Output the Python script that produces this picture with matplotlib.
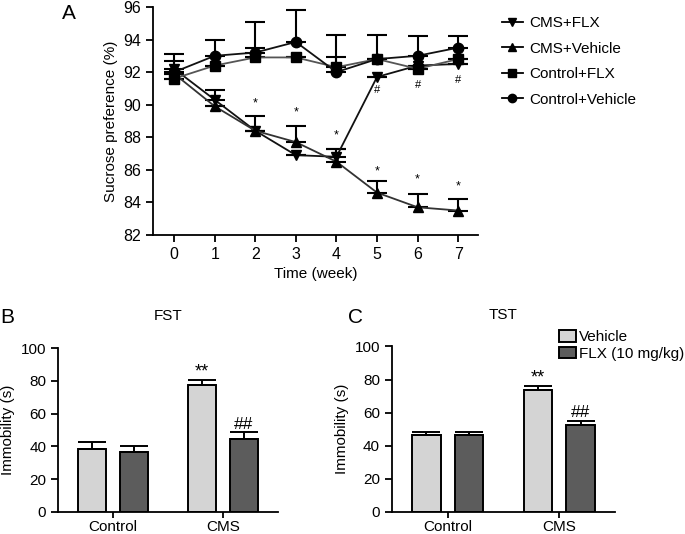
import matplotlib.pyplot as plt
from matplotlib.lines import Line2D
import numpy as np

plt.rcParams['font.family'] = ['Liberation Sans', 'DejaVu Sans']

# ---- panel A data: sucrose preference (%) by week
weeks = [0, 1, 2, 3, 4, 5, 6, 7]
cms_flx = [92.2, 90.3, 88.4, 86.9, 86.8, 91.7, 92.4, 92.5]
cms_flx_err = [0.5, 0.6, 0.9, 0.0, 0.5, 0.0, 0.0, 0.0]
cms_veh = [91.9, 89.9, 88.4, 87.7, 86.5, 84.6, 83.7, 83.5]
cms_veh_err = [0.0, 0.0, 0.0, 1.0, 0.8, 0.7, 0.8, 0.7]
ctl_flx = [91.6, 92.4, 92.9, 92.9, 92.3, 92.8, 92.2, 92.8]
ctl_flx_err = [0.0, 0.0, 0.6, 0.0, 0.6, 1.45, 0.0, 0.0]
ctl_veh = [92.0, 93.0, 93.2, 93.85, 92.0, 92.8, 93.0, 93.5]
ctl_veh_err = [1.1, 1.0, 1.9, 1.95, 2.3, 0.0, 1.2, 0.7]
star_weeks = [2, 3, 4, 5, 6, 7]
star_y = [90.1, 89.5, 88.1, 85.9, 85.4, 85.0]
hash_weeks = [5, 6, 7]
hash_y = [90.9, 91.2, 91.5]

# ---- panels B/C data: immobility (s)
groups = ['Control', 'CMS']
fst_veh = [38.5, 77.5]
fst_veh_err = [4.0, 3.2]
fst_flx = [36.5, 44.5]
fst_flx_err = [4.0, 4.0]
tst_veh = [46.3, 73.7]
tst_veh_err = [1.9, 2.7]
tst_flx = [46.3, 52.6]
tst_flx_err = [1.8, 2.3]

fig = plt.figure(figsize=(6.85, 5.34), dpi=100)

def style(ax, lw=1.3, size=11.5):
    for s in ['top', 'right']:
        ax.spines[s].set_visible(False)
    for s in ['left', 'bottom']:
        ax.spines[s].set_linewidth(lw)
    ax.tick_params(width=lw, length=5, labelsize=size)

# panel A
axA = fig.add_axes([0.2234, 0.56, 0.4745, 0.427])
series = [
    ('CMS+FLX', cms_flx, cms_flx_err, 'v', '#111111'),
    ('CMS+Vehicle', cms_veh, cms_veh_err, '^', '#333333'),
    ('Control+FLX', ctl_flx, ctl_flx_err, 's', '#555555'),
    ('Control+Vehicle', ctl_veh, ctl_veh_err, 'o', '#111111'),
]
handles = []
for name, vals, err, mk, col in series:
    axA.errorbar(weeks, vals, yerr=[np.zeros(len(err)), err], color=col,
                 marker=mk, markersize=7.5, markerfacecolor='black',
                 markeredgecolor='black', linewidth=1.3, capsize=7,
                 capthick=1.5, elinewidth=1.5, ecolor='black')
    handles.append(Line2D([], [], color='black', marker=mk, markersize=6,
                          linewidth=1.3, label=name))
for w, y in zip(star_weeks, star_y):
    axA.text(w, y, '*', ha='center', va='center', fontsize=9)
for w, y in zip(hash_weeks, hash_y):
    axA.text(w, y, '#', ha='center', va='center', fontsize=8)
axA.set_xlim(-0.52, 7.49)
axA.set_ylim(82, 96)
axA.set_xticks(weeks)
axA.set_yticks(range(82, 97, 2))
axA.set_xlabel('Time (week)', fontsize=11)
axA.set_ylabel('Sucrose preference (%)', fontsize=11)
style(axA)
axA.legend(handles=handles, loc='upper left', bbox_to_anchor=(1.03, 1.02),
           frameon=False, fontsize=11, handlelength=1.4, labelspacing=0.75,
           handletextpad=0.4)
fig.text(0.09, 0.975, 'A', fontsize=15, va='center')

# panels B and C
def bars(rect, veh, veh_err, flx, flx_err, title, letter, lx, legend=False):
    ax = fig.add_axes(rect)
    x = np.arange(len(groups))
    off = 0.19
    w = 0.255
    ax.bar(x - off, veh, w, color='#d4d4d4', edgecolor='black',
           linewidth=1.4, label='Vehicle')
    ax.bar(x + off, flx, w, color='#5c5c5c', edgecolor='black',
           linewidth=1.4, label='FLX (10 mg/kg)')
    ax.errorbar(x - off, veh, yerr=[[0, 0], veh_err], fmt='none',
                ecolor='black', capsize=10, elinewidth=1.4, capthick=1.4)
    ax.errorbar(x + off, flx, yerr=[[0, 0], flx_err], fmt='none',
                ecolor='black', capsize=10, elinewidth=1.4, capthick=1.4)
    ax.text(1 - off, veh[1] + veh_err[1] - 0.5, '**', ha='center',
            va='bottom', fontsize=13)
    ax.text(1 + off, flx[1] + flx_err[1] + 0.5, '##', ha='center',
            va='bottom', fontsize=12.5)
    ax.set_xlim(-0.5, 1.5)
    ax.set_ylim(0, 100)
    ax.set_xticks(x)
    ax.set_xticklabels(groups)
    ax.set_yticks(range(0, 101, 20))
    ax.set_ylabel('Immobility (s)', fontsize=11)
    style(ax, size=11)
    ax.tick_params(axis='x', length=4, pad=1.5)
    ax.set_title(title, fontsize=11, pad=20)
    fig.text(lx, 0.405, letter, fontsize=15, va='center')
    if legend:
        ax.legend(loc='upper left', bbox_to_anchor=(0.72, 1.135),
                  frameon=False, fontsize=11, handlelength=1.1,
                  handleheight=0.8, handletextpad=0.2, labelspacing=0.15,
                  borderaxespad=0)
    return ax

bars([0.0847, 0.0412, 0.321, 0.307], fst_veh, fst_veh_err, fst_flx,
     fst_flx_err, 'FST', 'B', 0.0)
bars([0.572, 0.0412, 0.326, 0.310], tst_veh, tst_veh_err, tst_flx,
     tst_flx_err, 'TST', 'C', 0.508, legend=True)

fig.savefig('out.png', dpi=100)
